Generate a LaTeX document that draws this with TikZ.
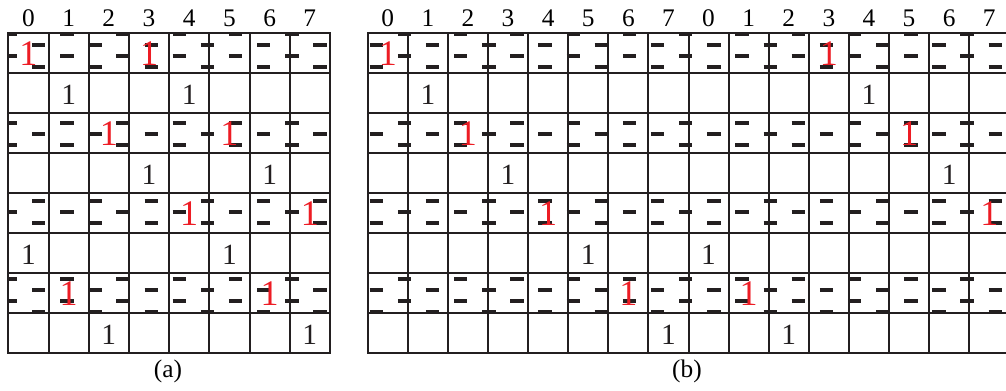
\documentclass[tikz,border=0pt]{standalone}
\usepackage{fontspec}
\setmainfont{Liberation Serif}
\usepackage{tikz}

\definecolor{ink}{RGB}{35,31,32}
\definecolor{onered}{RGB}{237,28,36}

\tikzset{
  gridline/.style={ink, line width=1.5pt},
  dashline/.style={ink, line width=3pt, dash pattern=on 10pt off 32.2pt},
  colnum/.style={inner sep=0pt, anchor=base, font=\fontsize{19}{19}\selectfont},
  blackone/.style={inner sep=0pt, text=ink, font=\fontsize{22}{22}\selectfont},
  redone/.style={inner sep=0pt, text=onered, font=\fontsize{27}{27}\selectfont},
}

\begin{document}
\begin{tikzpicture}[x=0.75pt, y=-0.75pt]
\useasboundingbox (0,0) rectangle (1006,391);
% Dashed rows
\begin{scope}
  \clip \foreach \r in {0,2,4,6} {
    (8.3,{33.3+40*\r}) rectangle (329.9,{73.3+40*\r})
    (367.7,{33.3+40*\r}) rectangle (1010,{73.3+40*\r})};
  \foreach \k in {0,...,25} {
    \pgfmathsetmacro\ly{34+11.14*\k}
    \pgfmathsetmacro\lx{3.9+28.15*mod(\k,2)}
    \draw[dashline] (\lx,\ly) -- (1012,\ly);
  }
\end{scope}
% Grid (a)
\foreach \c in {1,...,7}
  \draw[gridline] ({8.3+40.2*\c},33.3) -- ({8.3+40.2*\c},353.3);
\foreach \r in {1,...,7}
  \draw[gridline] (8.3,{33.3+40*\r}) -- (329.9,{33.3+40*\r});
\draw[gridline] (8.3,33.3) rectangle (329.9,353.3);
% Grid (b)
\foreach \c in {1,...,15}
  \draw[gridline] ({367.7+40.1*\c},33.3) -- ({367.7+40.1*\c},353.3);
\foreach \r in {1,...,7}
  \draw[gridline] (367.7,{33.3+40*\r}) -- (1009.3,{33.3+40*\r});
\draw[gridline] (367.7,33.3) rectangle (1009.3,353.3);
% Column numbers
\foreach \c in {0,...,7}
  \node[colnum] (ha\c) at ({8.3+40.2*(\c+0.5)},27) {\c};
\foreach \c in {0,...,15} {
  \pgfmathtruncatemacro\d{mod(\c,8)}
  \node[colnum] (hb\c) at ({367.7+40.1*(\c+0.5)},27) {\d};
}
% Ones in (a)
\foreach \r in {0,2,4,6} {
  \pgfmathtruncatemacro\cc{mod(\r+3,8)}
  \node[redone] (a\r-\r) at ({8.3+40.2*(\r+0.5)},{53.3+40*\r}) {1};
  \node[redone] (a\r-\cc) at ({8.3+40.2*(\cc+0.5)},{53.3+40*\r}) {1};
}
\foreach \r in {1,3,5,7} {
  \pgfmathtruncatemacro\cc{mod(\r+3,8)}
  \node[blackone] (a\r-\r) at ({8.3+40.2*(\r+0.5)},{55.3+40*\r}) {1};
  \node[blackone] (a\r-\cc) at ({8.3+40.2*(\cc+0.5)},{55.3+40*\r}) {1};
}
% Ones in (b)
\foreach \r in {0,2,4,6} {
  \pgfmathtruncatemacro\cc{8+mod(\r+3,8)}
  \node[redone] (b\r-\r) at ({367.7+40.1*(\r+0.5)},{53.3+40*\r}) {1};
  \node[redone] (b\r-\cc) at ({367.7+40.1*(\cc+0.5)},{53.3+40*\r}) {1};
}
\foreach \r in {1,3,5,7} {
  \pgfmathtruncatemacro\cc{8+mod(\r+3,8)}
  \node[blackone] (b\r-\r) at ({367.7+40.1*(\r+0.5)},{55.3+40*\r}) {1};
  \node[blackone] (b\r-\cc) at ({367.7+40.1*(\cc+0.5)},{55.3+40*\r}) {1};
}
% Captions
\node[colnum, anchor=center] (capa) at (168,371.5) {(a)};
\node[colnum, anchor=center] (capb) at (687,371.5) {(b)};
\end{tikzpicture}
\end{document}
